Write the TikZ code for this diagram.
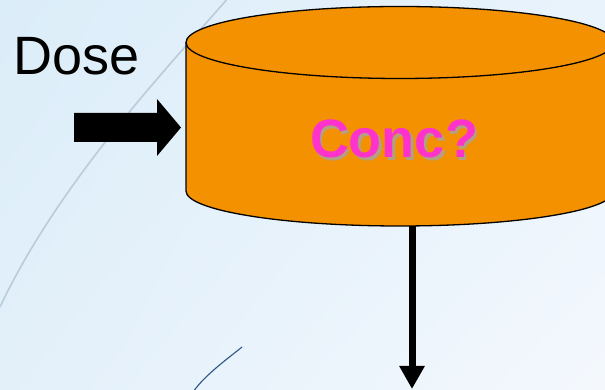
\documentclass[tikz,border=0pt]{standalone}
\usepackage{fontspec}
\setmainfont{Liberation Sans}
\usetikzlibrary{arrows.meta,shadings}

\definecolor{bgA}{HTML}{DBEDF9}
\definecolor{bgB}{HTML}{E9F3FC}
\definecolor{bgC}{HTML}{E3F0FA}
\definecolor{bgD}{HTML}{F4F8FD}
\definecolor{tank}{HTML}{F39100}
\definecolor{concpink}{HTML}{FF33CC}
\definecolor{concshadow}{RGB}{168,164,152}
\definecolor{swoosh}{HTML}{B9CCDC}
\definecolor{swooshdark}{HTML}{2E5585}

\tikzset{
  label text/.style={inner sep=0pt, font=\fontsize{54}{62}\selectfont},
  tank outline/.style={draw=black, line width=1.3pt},
  flow arrow/.style={line width=7pt, -{Triangle[width=24pt,length=23pt]}},
}

\begin{document}
\begin{tikzpicture}[x=1pt,y=1pt]
  \useasboundingbox (0,0) rectangle (605,390);
  \clip (0,0) rectangle (605,390);

  % soft blue backdrop
  \shade[upper left=bgA, upper right=bgB, lower left=bgC, lower right=bgD]
    (0,0) rectangle (605,390);

  % decorative swooshes
  \draw[swoosh, line width=1.6pt] (229,393) .. controls (170,325) and (60,210) .. (0,83);
  \draw[swooshdark, line width=1.1pt] (242,43) .. controls (226,30) and (205,15) .. (193,-2);

  % the compartment (cylinder)
  \fill[tank] (186,347.5) -- (186,199)
    arc[start angle=180, end angle=360, x radius=214, y radius=35]
    -- (614,347.5) -- cycle;
  \draw[tank outline] (186,347.5) -- (186,199)
    arc[start angle=180, end angle=360, x radius=214, y radius=35]
    -- (614,347.5);
  \filldraw[fill=tank, tank outline] (400,347.5) ellipse [x radius=214, y radius=36];

  % labels
  \node[label text, anchor=base west] (dose) at (13,315) {Dose};
  \node[label text, anchor=base, text=concshadow, opacity=0.85] (concshade) at (396.5,229.5) {\bfseries Conc?};
  \node[label text, anchor=base, text=concpink] (conc) at (394,232) {\bfseries Conc?};

  % dose input (block arrow)
  \fill[black] (74,277) -- (157,277) -- (157,291) -- (181,262.5)
    -- (157,234) -- (157,248) -- (74,248) -- cycle;

  % elimination output
  \coordinate (tankbase) at (412,164);
  \coordinate (outlet) at (412,1);
  \draw[flow arrow] (tankbase) -- (outlet);
\end{tikzpicture}
\end{document}
